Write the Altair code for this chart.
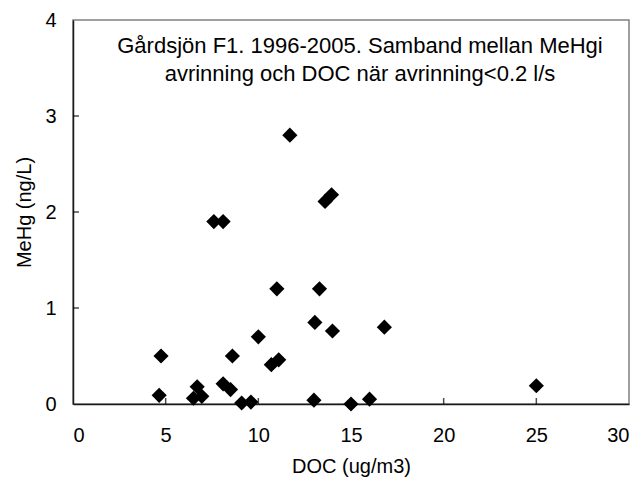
import altair as alt
import pandas as pd

doc = [11.7, 13.6, 13.95, 7.6, 8.1, 11.0, 13.3, 13.05, 14.0, 10.0, 4.75, 8.6,
       10.7, 11.1, 8.1, 8.5, 6.7, 4.65, 6.5, 6.95, 9.1, 9.6, 13.0, 15.0, 16.0,
       16.8, 25.0]
mehg = [2.80, 2.11, 2.18, 1.90, 1.90, 1.20, 1.20, 0.85, 0.76, 0.70, 0.50, 0.50,
        0.41, 0.46, 0.21, 0.15, 0.18, 0.09, 0.06, 0.08, 0.01, 0.02, 0.04, 0.00,
        0.05, 0.80, 0.19]
x_label_values = [0, 5, 10, 15, 20, 25, 30]
y_label_values = [0, 1, 2, 3, 4]
x_tick_values = [5, 10, 15, 20, 25]
y_tick_values = [1, 2, 3]
title_lines = ["Gårdsjön F1. 1996-2005. Samband mellan MeHgi",
               "avrinning och DOC när avrinning<0.2 l/s"]

FONT = "Liberation Sans"

df = pd.DataFrame({"DOC": doc, "MeHg": mehg})
xt = pd.DataFrame({"v": x_tick_values})
yt = pd.DataFrame({"v": y_tick_values})

xscale = alt.Scale(domain=[0, 30], nice=False, zero=False)
yscale = alt.Scale(domain=[0, 4], nice=False, zero=False)

xaxis = alt.Axis(title="DOC (ug/m3)", values=x_label_values, format="d",
                 labelPadding=21, titleY=62, titleBaseline="middle")
yaxis = alt.Axis(title="MeHg (ng/L)", values=y_label_values, format="d",
                 labelPadding=17, titleAngle=-90, titleX=-49, titleY=192,
                 titleBaseline="middle", titleAlign="center")

points = alt.Chart(df).mark_point(
    shape="diamond", filled=True, color="black", size=230, opacity=1
).encode(
    x=alt.X("DOC:Q", scale=xscale, axis=xaxis, title="DOC (ug/m3)"),
    y=alt.Y("MeHg:Q", scale=yscale, axis=yaxis, title="MeHg (ng/L)"),
)

xticks = alt.Chart(xt).mark_tick(
    orient="vertical", size=12, thickness=1.5, color="black", clip=True
).encode(x=alt.X("v:Q", scale=xscale, axis=xaxis, title="DOC (ug/m3)"),
         y=alt.datum(0, scale=yscale, axis=yaxis, title="MeHg (ng/L)"))

yticks = alt.Chart(yt).mark_tick(
    orient="horizontal", size=12, thickness=1.5, color="black", clip=True
).encode(y=alt.Y("v:Q", scale=yscale, axis=yaxis, title="MeHg (ng/L)"),
         x=alt.datum(0, scale=xscale, axis=xaxis, title="DOC (ug/m3)"))

title = alt.Chart(pd.DataFrame({"t": [title_lines]})).mark_text(
    font=FONT, fontSize=22, color="black", align="center", baseline="alphabetic",
    lineHeight=28
).encode(text="t", x=alt.value(287), y=alt.value(33))

chart = alt.layer(points, xticks, yticks, title).properties(
    width=556, height=384,
    autosize=alt.AutoSizeParams(type="none"),
    padding={"left": 65, "top": 12, "right": 5, "bottom": 75},
).configure_view(
    stroke="#808080", strokeWidth=1.5
).configure_axis(
    grid=False, ticks=False, tickSize=0,
    domainColor="#1a1a1a", domainWidth=1.5,
    labelFont=FONT, labelFontSize=20, labelColor="black",
    titleFont=FONT, titleFontSize=20, titleColor="black", titleFontWeight="normal",
)

chart.save("out.html", embed_options={"renderer": "svg", "actions": False})
